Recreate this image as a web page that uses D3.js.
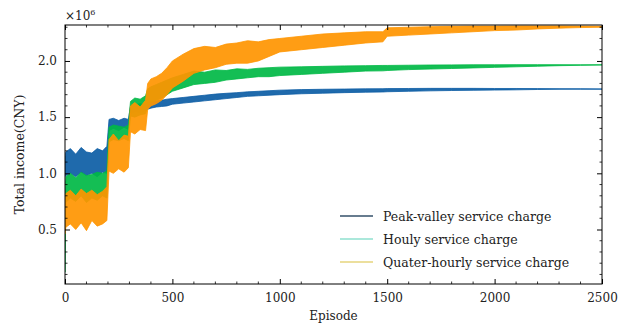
<!DOCTYPE html>
<html>
<head>
<meta charset="utf-8">
<script src="https://cdn.jsdelivr.net/npm/d3@7"></script>
<style>
  body { margin: 0; background: #fff; }
  svg { display: block; font-family: 'DejaVu Serif', serif; }
</style>
</head>
<body>
<svg id="chart" width="632" height="328"></svg>
<script>
const episodes = [0, 4, 25, 50, 75, 100, 125, 150, 175, 195, 205, 225, 250, 275, 295, 305, 325, 350, 375, 385,
  400, 425, 450, 475, 500, 550, 600, 650, 700, 750, 800, 850, 900, 950, 1000, 1100, 1200, 1300, 1400, 1480,
  1500, 1600, 1700, 1800, 1900, 2000, 2100, 2200, 2300, 2400, 2500];

// values in 1e6 CNY, lower / upper edge of each noisy trace
const peakLow = [0.97, 0.98, 1.00, 0.97, 1.01, 0.98, 1.00, 0.97, 1.01, 1.00, 1.38, 1.40, 1.38, 1.41, 1.39, 1.53, 1.55, 1.54, 1.56, 1.57,
  1.58, 1.59, 1.595, 1.60, 1.615, 1.625, 1.635, 1.645, 1.655, 1.665, 1.675, 1.685, 1.69, 1.695, 1.70, 1.708, 1.713, 1.718, 1.722, 1.724,
  1.726, 1.73, 1.734, 1.737, 1.739, 1.741, 1.743, 1.746, 1.748, 1.749, 1.749];
const peakHigh = [1.15, 1.19, 1.22, 1.17, 1.23, 1.19, 1.18, 1.22, 1.20, 1.24, 1.48, 1.49, 1.47, 1.49, 1.48, 1.60, 1.61, 1.62, 1.61, 1.63,
  1.64, 1.645, 1.65, 1.66, 1.665, 1.675, 1.685, 1.695, 1.705, 1.712, 1.718, 1.725, 1.73, 1.735, 1.74, 1.745, 1.748, 1.75, 1.752, 1.753,
  1.754, 1.755, 1.756, 1.756, 1.756, 1.755, 1.755, 1.754, 1.753, 1.752, 1.751];

const hourlyLow = [0.12, 0.74, 0.78, 0.75, 0.80, 0.74, 0.78, 0.76, 0.80, 0.78, 1.28, 1.30, 1.29, 1.31, 1.29, 1.51, 1.50, 1.52, 1.53, 1.60,
  1.63, 1.65, 1.67, 1.70, 1.73, 1.76, 1.79, 1.80, 1.81, 1.83, 1.84, 1.85, 1.86, 1.86, 1.87, 1.88, 1.89, 1.90, 1.91, 1.912,
  1.915, 1.923, 1.928, 1.933, 1.938, 1.943, 1.948, 1.953, 1.958, 1.961, 1.964];
const hourlyHigh = [0.84, 0.97, 1.00, 0.96, 1.01, 0.98, 0.99, 1.01, 1.00, 1.02, 1.41, 1.43, 1.42, 1.41, 1.43, 1.64, 1.67, 1.66, 1.69, 1.75,
  1.77, 1.79, 1.81, 1.83, 1.85, 1.88, 1.91, 1.90, 1.92, 1.915, 1.93, 1.925, 1.935, 1.94, 1.945, 1.948, 1.952, 1.956, 1.958, 1.96,
  1.96, 1.962, 1.964, 1.965, 1.966, 1.966, 1.967, 1.967, 1.967, 1.966, 1.966];

const quarterLow = [0.46, 0.52, 0.55, 0.50, 0.56, 0.49, 0.58, 0.53, 0.55, 0.58, 1.02, 1.00, 1.04, 1.01, 1.05, 1.37, 1.35, 1.39, 1.38, 1.57,
  1.60, 1.62, 1.65, 1.70, 1.76, 1.82, 1.89, 1.92, 1.94, 1.97, 1.98, 1.98, 2.00, 2.04, 2.08, 2.10, 2.12, 2.14, 2.16, 2.17,
  2.22, 2.23, 2.24, 2.25, 2.26, 2.27, 2.275, 2.285, 2.292, 2.297, 2.30];
const quarterHigh = [0.76, 0.82, 0.85, 0.80, 0.86, 0.82, 0.85, 0.81, 0.84, 0.88, 1.30, 1.35, 1.29, 1.34, 1.33, 1.60, 1.63, 1.59, 1.65, 1.80,
  1.84, 1.86, 1.89, 1.94, 2.00, 2.06, 2.11, 2.13, 2.12, 2.15, 2.16, 2.18, 2.17, 2.19, 2.20, 2.22, 2.24, 2.25, 2.26, 2.26,
  2.295, 2.30, 2.305, 2.308, 2.31, 2.31, 2.312, 2.312, 2.312, 2.31, 2.308];

const seriesNames = ['Peak-valley service charge', 'Houly service charge', 'Quater-hourly service charge'];
const seriesColors = ['#0C5DA5', '#00B945', '#FF9500'];
const legendColors = ['#34506a', '#8fe0cf', '#e6d57c'];
const xTicks = [0, 500, 1000, 1500, 2000, 2500];
const yTicks = [0.5, 1.0, 1.5, 2.0];

const svg = d3.select('#chart');
const plotLeft = 65, plotRight = 602, plotTop = 25, plotBottom = 284;

const x = d3.scaleLinear().domain([0, 2500]).range([plotLeft, plotRight]);
const y = d3.scaleLinear().domain([0.015, 2.32]).range([plotBottom, plotTop]);

const bands = [
  [peakLow, peakHigh],
  [hourlyLow, hourlyHigh],
  [quarterLow, quarterHigh]
];

svg.append('defs').append('clipPath').attr('id', 'plotclip')
  .append('rect')
  .attr('x', plotLeft).attr('y', plotTop)
  .attr('width', plotRight - plotLeft).attr('height', plotBottom - plotTop);

const area = d3.area()
  .x(d => x(d.ep))
  .y0(d => y(d.lo))
  .y1(d => y(d.hi));

const plot = svg.append('g').attr('clip-path', 'url(#plotclip)');
bands.forEach((b, i) => {
  const rows = episodes.map((ep, k) => ({ ep: ep, lo: b[0][k], hi: b[1][k] }));
  plot.append('path')
    .datum(rows)
    .attr('d', area)
    .attr('fill', seriesColors[i])
    .attr('fill-opacity', 0.92)
    .attr('stroke', seriesColors[i])
    .attr('stroke-width', 0.8)
    .attr('stroke-linejoin', 'round');
});

// frame + inward ticks on all four sides
svg.append('rect')
  .attr('x', plotLeft).attr('y', plotTop)
  .attr('width', plotRight - plotLeft).attr('height', plotBottom - plotTop)
  .attr('fill', 'none').attr('stroke', '#000').attr('stroke-width', 1);

const xMinor = d3.range(100, 2500, 100).filter(v => v % 500 !== 0);
const yMinor = d3.range(1, 24).map(v => v / 10).filter(v => Math.round(v * 10) % 5 !== 0);

const gx = svg.append('g').attr('transform', `translate(0,${plotBottom})`)
  .call(d3.axisBottom(x).tickValues(xTicks).tickSizeInner(-5).tickSizeOuter(0).tickPadding(9).tickFormat(d3.format('d')));
gx.select('.domain').remove();
gx.selectAll('text').attr('font-size', 12).attr('font-family', 'DejaVu Serif').attr('fill', '#222');

const gy = svg.append('g').attr('transform', `translate(${plotLeft},0)`)
  .call(d3.axisLeft(y).tickValues(yTicks).tickSizeInner(-5).tickSizeOuter(0).tickPadding(8).tickFormat(d3.format('.1f')));
gy.select('.domain').remove();
gy.selectAll('text').attr('font-size', 12).attr('font-family', 'DejaVu Serif').attr('fill', '#222');

const gxt = svg.append('g').attr('transform', `translate(0,${plotTop})`)
  .call(d3.axisTop(x).tickValues(xTicks).tickSizeInner(-5).tickSizeOuter(0).tickFormat(''));
gxt.select('.domain').remove();
const gyr = svg.append('g').attr('transform', `translate(${plotRight},0)`)
  .call(d3.axisRight(y).tickValues(yTicks).tickSizeInner(-5).tickSizeOuter(0).tickFormat(''));
gyr.select('.domain').remove();

// minor ticks
[[plotBottom, -1], [plotTop, 1]].forEach(([yy, dir]) => {
  svg.append('g').selectAll('line').data(xMinor).enter().append('line')
    .attr('x1', d => x(d)).attr('x2', d => x(d))
    .attr('y1', yy).attr('y2', yy + dir * 2.5)
    .attr('stroke', '#000').attr('stroke-width', 0.8);
});
[[plotLeft, 1], [plotRight, -1]].forEach(([xx, dir]) => {
  svg.append('g').selectAll('line').data(yMinor).enter().append('line')
    .attr('y1', d => y(d)).attr('y2', d => y(d))
    .attr('x1', xx).attr('x2', xx + dir * 2.5)
    .attr('stroke', '#000').attr('stroke-width', 0.8);
});

// labels
svg.append('text')
  .attr('x', (plotLeft + plotRight) / 2).attr('y', 320)
  .attr('text-anchor', 'middle')
  .attr('font-size', 12).attr('fill', '#222')
  .text('Episode');

svg.append('text')
  .attr('transform', `translate(24,${(plotTop + plotBottom) / 2}) rotate(-90)`)
  .attr('text-anchor', 'middle')
  .attr('font-size', 12.5).attr('fill', '#222')
  .text('Total income(CNY)');

const mult = svg.append('text').attr('x', plotLeft).attr('y', 20).attr('font-size', 12).attr('fill', '#222');
mult.append('tspan').text('×10');
mult.append('tspan').attr('dy', -5).attr('font-size', 8).text('6');

// legend
const legend = svg.append('g');
seriesNames.forEach((name, i) => {
  const ly = 216 + i * 23;
  legend.append('line')
    .attr('x1', 340).attr('x2', 373)
    .attr('y1', ly).attr('y2', ly)
    .attr('stroke', legendColors[i]).attr('stroke-width', 1.3);
  legend.append('text')
    .attr('x', 383).attr('y', ly + 4.5)
    .attr('font-size', 12.5).attr('fill', '#222')
    .text(name);
});
</script>
</body>
</html>
